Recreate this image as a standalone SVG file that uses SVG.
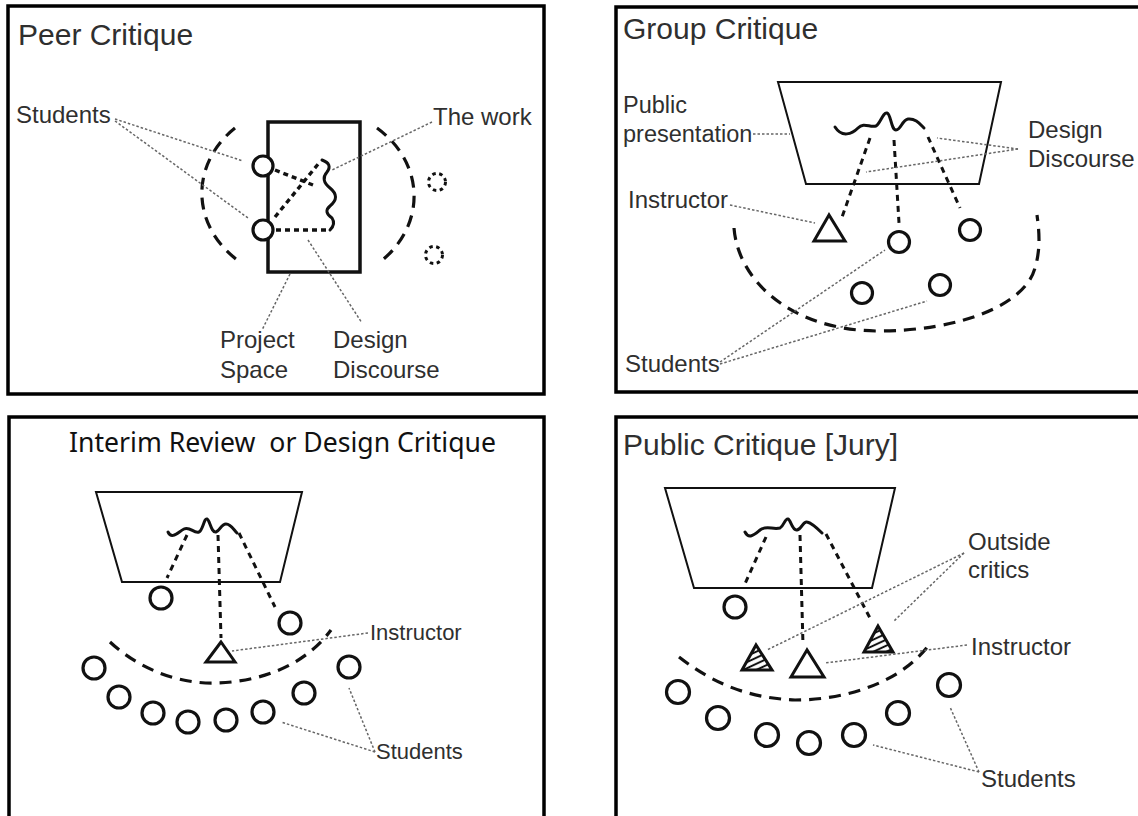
<svg xmlns="http://www.w3.org/2000/svg" width="1138" height="816" viewBox="0 0 1138 816">
  <style>
    .frame { fill: none; stroke: #000; stroke-width: 3.5; }
    .lbl { font-family: "Liberation Sans", Arial, sans-serif; font-size: 24px; fill: #2f2f2f; }
    .ttl { font-size: 30px; }
    .lead { fill: none; stroke: #666; stroke-width: 1.5; stroke-dasharray: 2.5 2; }
    .ink { fill: none; stroke: #111; stroke-width: 3; stroke-linecap: round; }
    .dots { fill: none; stroke: #111; stroke-width: 3.4; stroke-dasharray: 5 4; }
    .sight { fill: none; stroke: #111; stroke-width: 3; stroke-dasharray: 6 5; }
    .ring { fill: none; stroke: #111; stroke-width: 3.2; stroke-dasharray: 12 8; }
    .trap { fill: none; stroke: #111; stroke-width: 2; stroke-linejoin: miter; }
    .seat { fill: #fff; stroke: #111; stroke-width: 3.2; }
    .tri { fill: #fff; stroke: #111; stroke-width: 3; stroke-linejoin: miter; }
    .hatched { fill: url(#hatch); stroke: #111; stroke-width: 3; stroke-linejoin: miter; }
  </style>
  <defs>
    <pattern id="hatch" patternUnits="userSpaceOnUse" width="5.5" height="5.5" patternTransform="rotate(-25)">
      <rect width="5.5" height="5.5" fill="#fff"/>
      <line x1="0" y1="2.75" x2="5.5" y2="2.75" stroke="#111" stroke-width="2"/>
    </pattern>
  </defs>

  <rect width="1138" height="816" fill="#fff"/>

  <!-- Peer Critique -->
  <g id="peer-critique">
    <rect class="frame" x="8" y="6" width="536" height="388"/>
    <text class="lbl ttl" x="18" y="45">Peer Critique</text>
    <g id="peer-space">
      <path class="ring" d="M235,128 A107,90 0 0 0 240,262"/>
      <path class="ring" d="M377,128 A107,90 0 0 1 380,262"/>
      <rect x="268" y="122" width="92" height="150" fill="none" stroke="#111" stroke-width="3.5"/>
    </g>
    <g id="peer-work">
      <path class="ink" d="M322,160 Q333,164 327,172 Q320,180 330,188 Q341,197 330,206 Q323,212 332,218 Q336,224 330,230"/>
    </g>
    <g id="peer-student-1"><circle class="seat" cx="263" cy="166" r="10"/></g>
    <g id="peer-student-2"><circle class="seat" cx="263" cy="230" r="10"/></g>
    <g id="peer-bystanders">
      <circle cx="437" cy="182" r="8.5" fill="none" stroke="#111" stroke-width="3" stroke-dasharray="3.5 3.5"/>
      <circle cx="434" cy="255" r="8.5" fill="none" stroke="#111" stroke-width="3" stroke-dasharray="3.5 3.5"/>
    </g>
    <text class="lbl" x="16" y="123">Students</text>
    <text class="lbl" x="433" y="125">The work</text>
    <text class="lbl" x="220" y="348">Project</text>
    <text class="lbl" x="220" y="378">Space</text>
    <text class="lbl" x="333" y="348">Design</text>
    <text class="lbl" x="333" y="378">Discourse</text>
  </g>

  <!-- Group Critique -->
  <g id="group-critique">
    <rect class="frame" x="616" y="7" width="540" height="385"/>
    <text class="lbl ttl" x="623" y="39">Group Critique</text>
    <g id="group-screen">
      <polygon class="trap" points="778,82 1001,82 979,184 806,184"/>
      <path class="ink" d="M835,127 C842,138 852,134 858,128 C864,122 870,128 876,126 C880,124 883,112 887,113 C891,114 891,130 896,130 C901,130 902,120 908,119 C915,118 920,124 924,128"/>
    </g>
    <path id="group-circle" class="ring" d="M734,228 C738,280 790,330 877,331 C960,331 1025,305 1035,268 C1041,248 1039,230 1037,215"/>
    <g id="group-instructor"><polygon class="tri" points="829,215 814,241 845,241"/></g>
    <g id="group-students">
      <circle class="seat" cx="899" cy="242" r="10.5"/>
      <circle class="seat" cx="970" cy="230" r="10.5"/>
      <circle class="seat" cx="862" cy="293" r="10.5"/>
      <circle class="seat" cx="940" cy="285" r="10.5"/>
    </g>
    <text class="lbl" x="623" y="113" style="font-size:23.5px">Public</text>
    <text class="lbl" x="623" y="142" style="font-size:23.5px">presentation</text>
    <text class="lbl" x="1028" y="138">Design</text>
    <text class="lbl" x="1028" y="167">Discourse</text>
    <text class="lbl" x="628" y="208">Instructor</text>
    <text class="lbl" x="625" y="372">Students</text>
  </g>

  <!-- Interim Review or Design Critique -->
  <g id="interim-review">
    <rect class="frame" x="9" y="417" width="535" height="420"/>
    <text x="69" y="452" xml:space="preserve" textLength="427" lengthAdjust="spacingAndGlyphs" style="font-family:'Noto Sans','Open Sans',sans-serif;font-size:27px;fill:#111">Interim Review  or Design Critique</text>
    <g id="interim-screen">
      <polygon class="trap" points="96,492 302,492 280,582 122,582"/>
      <path class="ink" d="M168,532 C172,540 178,532 184,529 C190,526 194,534 199,532 C203,530 204,518 207,519 C210,520 211,533 216,532 C220,531 221,524 226,524 C231,524 234,530 237,533"/>
    </g>
    <path id="interim-arc" class="ring" d="M110,642 C140,670 180,684 215,683 C262,682 305,665 331,630"/>
    <g id="interim-instructor"><polygon class="tri" points="221,642 206,662 235,662"/></g>
    <g id="interim-students">
      <circle class="seat" cx="161" cy="598" r="11"/>
      <circle class="seat" cx="290" cy="623" r="11"/>
      <circle class="seat" cx="94" cy="668" r="11"/>
      <circle class="seat" cx="119" cy="697" r="11"/>
      <circle class="seat" cx="153" cy="713" r="11"/>
      <circle class="seat" cx="188" cy="722" r="11"/>
      <circle class="seat" cx="226" cy="720" r="11"/>
      <circle class="seat" cx="263" cy="712" r="11"/>
      <circle class="seat" cx="304" cy="693" r="11"/>
      <circle class="seat" cx="349" cy="667" r="11"/>
    </g>
    <text class="lbl" x="370" y="640" style="font-size:22px">Instructor</text>
    <text class="lbl" x="376" y="759" style="font-size:22px">Students</text>
  </g>

  <!-- Public Critique [Jury] -->
  <g id="public-critique">
    <rect class="frame" x="616" y="417" width="540" height="420"/>
    <text class="lbl ttl" x="623" y="455">Public Critique [Jury]</text>
    <g id="jury-screen">
      <polygon class="trap" points="665,488 895,488 872,588 694,588"/>
      <path class="ink" d="M745,532 C749,540 755,534 760,530 C766,525 773,530 780,528 C784,526 785,518 788,519 C791,520 792,531 797,530 C802,529 803,521 807,522 C812,523 817,528 822,533"/>
    </g>
    <path id="jury-arc" class="ring" d="M679,657 C715,685 750,698 795,700 C850,700 905,680 931,642"/>
    <g id="jury-critic-left"><polygon class="hatched" points="756,645 742,670 772,670"/></g>
    <g id="jury-critic-right"><polygon class="hatched" points="878,626 864,652 893,652"/></g>
    <g id="jury-instructor"><polygon class="tri" points="807,650 791,677 824,677"/></g>
    <g id="jury-students">
      <circle class="seat" cx="735" cy="607" r="11"/>
      <circle class="seat" cx="678" cy="692" r="11.5"/>
      <circle class="seat" cx="718" cy="718" r="11.5"/>
      <circle class="seat" cx="767" cy="735" r="11.5"/>
      <circle class="seat" cx="809" cy="743" r="11.5"/>
      <circle class="seat" cx="854" cy="735" r="11.5"/>
      <circle class="seat" cx="898" cy="713" r="11.5"/>
      <circle class="seat" cx="949" cy="685" r="11.5"/>
    </g>
    <text class="lbl" x="968" y="550">Outside</text>
    <text class="lbl" x="968" y="578">critics</text>
    <text class="lbl" x="971" y="655">Instructor</text>
    <text class="lbl" x="981" y="787">Students</text>
  </g>

  <!-- connectors: sight lines and label leaders -->
  <g id="connectors">
    <path class="dots" d="M275,170 L313,185"/>
    <path class="dots" d="M275,217 L319,163"/>
    <path class="dots" d="M276,230 L328,230"/>
    <path class="lead" d="M115,119 L243,161"/>
    <path class="lead" d="M115,121 L248,218"/>
    <path class="lead" d="M432,122 L332,170"/>
    <path class="lead" d="M290,274 L262,330"/>
    <path class="lead" d="M308,240 L362,323"/>

    <path class="sight" d="M870,138 L841,220"/>
    <path class="sight" d="M894,140 L899,223"/>
    <path class="sight" d="M928,137 L960,208"/>
    <path class="lead" d="M753,134 L790,134"/>
    <path class="lead" d="M1018,149 L937,138"/>
    <path class="lead" d="M1018,149 L866,172"/>
    <path class="lead" d="M730,205 L815,223"/>
    <path class="lead" d="M720,362 L885,250"/>
    <path class="lead" d="M720,364 L927,301"/>

    <path class="sight" d="M187,535 L167,578"/>
    <path class="sight" d="M218,535 L221,638"/>
    <path class="sight" d="M239,533 L275,607"/>
    <path class="lead" d="M368,633 L232,651"/>
    <path class="lead" d="M375,752 L281,722"/>
    <path class="lead" d="M375,752 L349,688"/>

    <path class="sight" d="M766,537 L744,586"/>
    <path class="sight" d="M800,535 L803,645"/>
    <path class="sight" d="M826,534 L871,620"/>
    <path class="lead" d="M964,553 L767,650"/>
    <path class="lead" d="M964,553 L893,622"/>
    <path class="lead" d="M967,645 L825,663"/>
    <path class="lead" d="M979,772 L873,745"/>
    <path class="lead" d="M979,772 L950,707"/>
  </g>
</svg>
